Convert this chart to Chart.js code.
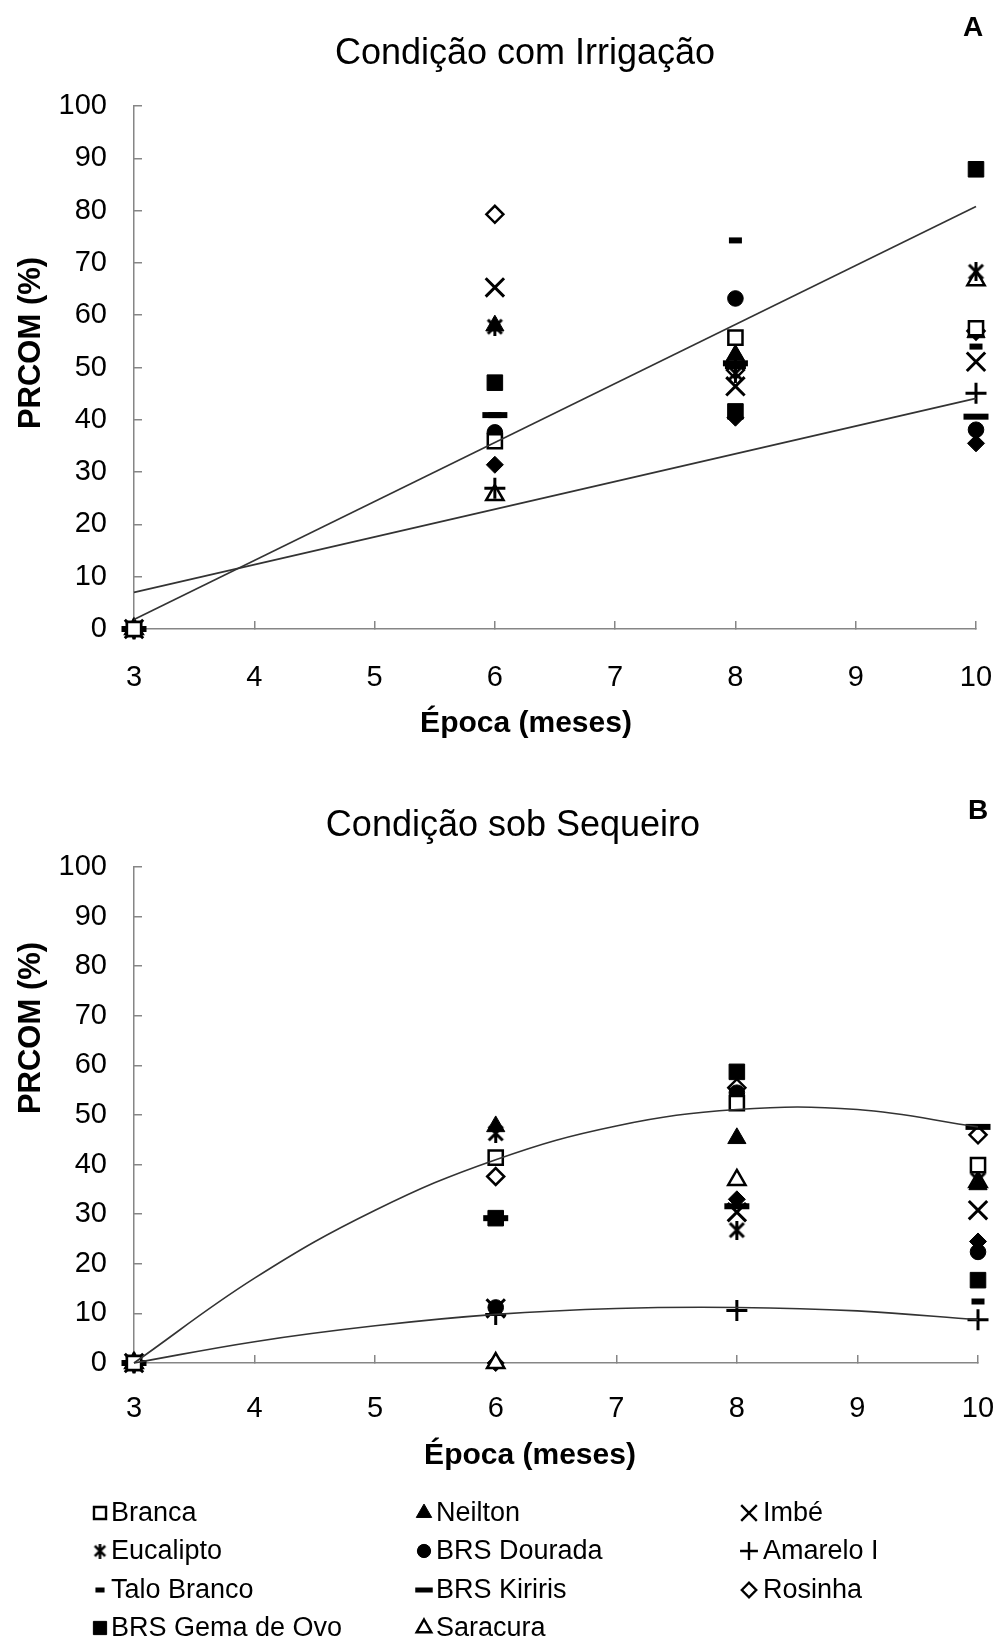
<!DOCTYPE html>
<html lang="pt">
<head>
<meta charset="utf-8">
<title>PRCOM por época</title>
<script src="https://cdn.jsdelivr.net/npm/chart.js@4.4.1/dist/chart.umd.min.js"></script>
<style>
  html, body { margin: 0; padding: 0; background: #fff; }
  .painel { position: relative; width: 998px; }
</style>
</head>
<body>
<div class="painel" style="height:750px"><canvas id="graficoA"></canvas></div>
<div class="painel" style="height:890px"><canvas id="graficoB"></canvas></div>
<script>
// Épocas de avaliação (meses)
const epocas = [3, 6, 8, 10];
const cultivares = ['Branca', 'Neilton', 'Imbé', 'Eucalipto', 'BRS Dourada', 'Amarelo I',
  'Talo Branco', 'BRS Kiriris', 'Rosinha', 'BRS Gema de Ovo', 'Saracura'];

// PRCOM (%) com irrigação — uma linha por cultivar, nas épocas 3, 6, 8 e 10
const irrigacao = [
  [0, 35.9, 55.7, 57.5],  // Branca
  [0, 58.0, 52.4, 56.7],  // Neilton
  [0, 65.3, 46.4, 51.1],  // Imbé
  [0, 57.8, 48.9, 68.3],  // Eucalipto
  [0, 37.6, 63.2, 38.1],  // BRS Dourada
  [0, 26.9, 50.0, 45.1],  // Amarelo I
  [0, 40.9, 74.3, 54.0],  // Talo Branco
  [0, 40.9, 50.8, 40.6],  // BRS Kiriris
  [0, 79.3, 49.5, 57.0],  // Rosinha
  [0, 47.1, 41.6, 87.9],  // BRS Gema de Ovo
  [0, 25.6, 52.0, 66.7]   // Saracura
];
const irrigacaoLosango = [0, 31.4, 40.4, 35.5];

// PRCOM (%) sob sequeiro
const sequeiro = [
  [0, 41.4, 52.4, 39.9],  // Branca
  [0, 47.7, 45.3, 36.0],  // Neilton
  [0, 11.0, 30.4, 30.8],  // Imbé
  [0, 46.3, 26.8, 36.9],  // Eucalipto
  [0, 11.2, 54.5, 22.4],  // BRS Dourada
  [0, 9.8, 10.6, 8.7],    // Amarelo I
  [0, 11.5, 54.0, 12.4],  // Talo Branco
  [0, 29.2, 31.6, 47.6],  // BRS Kiriris
  [0, 37.6, 55.5, 46.0],  // Rosinha
  [0, 29.2, 58.7, 16.7],  // BRS Gema de Ovo
  [0, 0, 36.9, 36.5]      // Saracura
];
const sequeiroLosango = [0, 0, 33.0, 24.5];

// Linhas de tendência
const tendRetaX = [3, 10];
const irrTend1 = [1.8, 80.8];
const irrTend2 = [7.0, 44.1];
const tendCurvaX = [3, 4, 5, 6, 7, 8, 9, 10];
const seqTend1 = [0, 17.1, 30.8, 41.0, 47.8, 51.1, 51.1, 47.6];
const seqTend2 = [0, 4.3, 7.5, 9.8, 11.0, 11.2, 10.5, 8.7];

const FONTE = '"Liberation Sans", Arial, sans-serif';
Chart.defaults.font.family = FONTE;
Chart.defaults.color = '#000';

// marcador "estrela" (X com traço vertical)
function criarEstrela(tam, lw) {
  const c = document.createElement('canvas');
  c.width = tam; c.height = tam;
  const g = c.getContext('2d');
  g.strokeStyle = '#000';
  g.lineWidth = lw;
  const a = lw / 2 + 1, b = tam - a;
  g.beginPath();
  g.moveTo(a, a); g.lineTo(b, b);
  g.moveTo(b, a); g.lineTo(a, b);
  g.moveTo(tam / 2, 0); g.lineTo(tam / 2, tam);
  g.stroke();
  return c;
}
const estrela = criarEstrela(19, 3);
const estrelaLegenda = criarEstrela(15, 2.6);

// estilo de cada cultivar, na mesma ordem de "cultivares"
const marcadores = [
  { estilo: 'rect', raio: 10, fundo: '#fff', borda: 2.5 },
  { estilo: 'triangle', raio: 10.5, fundo: '#000', borda: 1 },
  { estilo: 'crossRot', raio: 13, fundo: '#000', borda: 3 },
  { estilo: estrela, legenda: estrelaLegenda, raio: 10, fundo: '#000', borda: 1 },
  { estilo: 'circle', raio: 7.8, fundo: '#000', borda: 1 },
  { estilo: 'cross', raio: 10.5, fundo: '#000', borda: 3 },
  { estilo: 'line', raio: 6.5, fundo: '#000', borda: 6 },
  { estilo: 'line', raio: 12.5, fundo: '#000', borda: 6 },
  { estilo: 'rectRot', raio: 8.5, fundo: '#fff', borda: 2.5 },
  { estilo: 'rect', raio: 11, fundo: '#000', borda: 1 },
  { estilo: 'triangle', raio: 10, fundo: '#fff', borda: 2.5 }
];

function pontos(xs, ys) {
  return xs.map((x, j) => ({ x: x, y: ys[j] }));
}

function tendencia(xs, ys, tensao) {
  return {
    label: 'tendência',
    data: pontos(xs, ys),
    showLine: true,
    pointRadius: 0,
    borderColor: '#333',
    borderWidth: 1.6,
    tension: tensao,
    legenda: false,
    clip: false
  };
}

function conjuntos(valores, losango, tend) {
  const ds = tend.slice();
  cultivares.forEach((nome, i) => {
    const m = marcadores[i];
    ds.push({
      label: nome,
      data: pontos(epocas, valores[i]),
      pointStyle: m.estilo,
      estiloLegenda: m.legenda || m.estilo,
      pointRadius: m.raio,
      pointBackgroundColor: m.fundo,
      pointBorderColor: '#000',
      pointBorderWidth: m.borda,
      showLine: false,
      clip: false
    });
  });
  ds.push({
    label: '',
    data: pontos(epocas, losango),
    pointStyle: 'rectRot',
    pointRadius: 8.5,
    pointBackgroundColor: '#000',
    pointBorderColor: '#000',
    pointBorderWidth: 1,
    showLine: false,
    legenda: false,
    clip: false
  });
  return ds;
}

// títulos e rótulos dos eixos, desenhados em posições fixas
function textosPainel(itens) {
  return {
    id: 'textosPainel',
    afterDraw(chart) {
      const ctx = chart.ctx;
      ctx.save();
      ctx.fillStyle = '#000';
      ctx.textAlign = 'center';
      ctx.textBaseline = 'middle';
      itens.forEach(t => {
        ctx.save();
        ctx.font = t.fonte;
        ctx.translate(t.x, t.y);
        if (t.giro) ctx.rotate(t.giro);
        ctx.fillText(t.texto, 0, 0);
        ctx.restore();
      });
      ctx.restore();
    }
  };
}

// legenda em três colunas abaixo do segundo gráfico
const legendaColunas = [{ m: 100, t: 111 }, { m: 424, t: 436 }, { m: 749, t: 763 }];
const legendaLinhas = [763, 801, 840, 878];
const legendaGrade = {
  id: 'legendaGrade',
  afterDraw(chart) {
    const ctx = chart.ctx;
    const itens = chart.data.datasets.filter(d => d.legenda !== false);
    ctx.save();
    ctx.font = '27px ' + FONTE;
    ctx.textAlign = 'left';
    ctx.textBaseline = 'middle';
    itens.forEach((d, i) => {
      const col = legendaColunas[i % 3];
      const y = legendaLinhas[Math.floor(i / 3)];
      ctx.fillStyle = d.pointBackgroundColor;
      ctx.strokeStyle = '#000';
      ctx.lineWidth = d.pointStyle === 'line' ? 5 : Math.min(d.pointBorderWidth, 2.4);
      const raio = d.pointStyle === 'line' ? d.pointRadius * 0.7 : d.pointRadius * 0.85;
      Chart.helpers.drawPoint(ctx, {
        pointStyle: d.estiloLegenda,
        rotation: 0,
        radius: raio,
        borderWidth: ctx.lineWidth
      }, col.m, y);
      ctx.fillStyle = '#000';
      ctx.fillText(d.label, col.t, y + 1);
    });
    ctx.restore();
  }
};

function eixos(alturaX, padX) {
  const grade = { drawOnChartArea: false, tickLength: -8, color: '#868686', lineWidth: 1.5 };
  const borda = { color: '#868686', width: 1.5 };
  return {
    x: {
      type: 'linear', min: 3, max: 10,
      ticks: { stepSize: 1, font: { size: 29 }, padding: padX, color: '#000' },
      grid: grade, border: borda,
      afterFit: s => {
        s.height = alturaX;
        // o recuo dos rótulos não deve estreitar a área do gráfico
        s.paddingLeft = 0;
        s.paddingRight = 0;
      }
    },
    y: {
      min: 0, max: 100,
      ticks: { stepSize: 10, font: { size: 29 }, padding: 35, color: '#000' },
      grid: grade, border: borda,
      afterFit: s => { s.width = 134; }
    }
  };
}

const opcoesBase = {
  responsive: true,
  maintainAspectRatio: false,
  animation: false,
  events: [],
  plugins: { legend: { display: false }, tooltip: { enabled: false }, title: { display: false } }
};

new Chart(document.getElementById('graficoA'), {
  type: 'scatter',
  data: {
    datasets: conjuntos(irrigacao, irrigacaoLosango, [
      tendencia(tendRetaX, irrTend1, 0),
      tendencia(tendRetaX, irrTend2, 0)
    ])
  },
  options: Object.assign({}, opcoesBase, {
    layout: { padding: { top: 106, right: 22, left: 0, bottom: 0 } },
    scales: eixos(121, 40)
  }),
  plugins: [textosPainel([
    { texto: 'Condição com Irrigação', x: 525, y: 54, fonte: '36px ' + FONTE },
    { texto: 'A', x: 973, y: 28, fonte: 'bold 28px ' + FONTE },
    { texto: 'PRCOM (%)', x: 31, y: 343, fonte: 'bold 31px ' + FONTE, giro: -Math.PI / 2 },
    { texto: 'Época (meses)', x: 526, y: 724, fonte: 'bold 30px ' + FONTE }
  ])]
});

new Chart(document.getElementById('graficoB'), {
  type: 'scatter',
  data: {
    datasets: conjuntos(sequeiro, sequeiroLosango, [
      tendencia(tendCurvaX, seqTend1, 0.4),
      tendencia(tendCurvaX, seqTend2, 0.4)
    ])
  },
  options: Object.assign({}, opcoesBase, {
    layout: { padding: { top: 117, right: 20, left: 0, bottom: 0 } },
    scales: eixos(277, 37)
  }),
  plugins: [legendaGrade, textosPainel([
    { texto: 'Condição sob Sequeiro', x: 513, y: 76, fonte: '36px ' + FONTE },
    { texto: 'B', x: 978, y: 61, fonte: 'bold 28px ' + FONTE },
    { texto: 'PRCOM (%)', x: 31, y: 278, fonte: 'bold 31px ' + FONTE, giro: -Math.PI / 2 },
    { texto: 'Época (meses)', x: 530, y: 706, fonte: 'bold 30px ' + FONTE }
  ])]
});
</script>
</body>
</html>
